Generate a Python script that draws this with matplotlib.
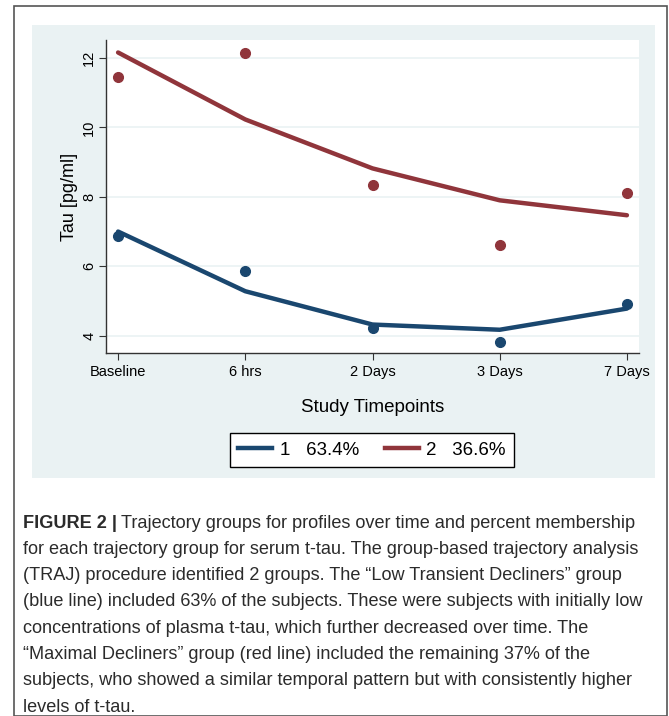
import matplotlib.pyplot as plt
from matplotlib.patches import Rectangle
from matplotlib.lines import Line2D

plt.rcParams["font.family"] = ["Liberation Sans", "DejaVu Sans"]

# data
timepoints = ["Baseline", "6 hrs", "2 Days", "3 Days", "7 Days"]
yticks = [4, 6, 8, 10, 12]

g1_fit = [7.0, 5.28, 4.32, 4.17, 4.78]
g1_obs = [6.86, 5.86, 4.22, 3.83, 4.9]
g2_fit = [12.16, 10.23, 8.82, 7.9, 7.47]
g2_obs = [11.45, 12.15, 8.35, 6.6, 8.1]

group_labels = ["1   63.4%", "2   36.6%"]

navy = "#1a476f"
maroon = "#90353b"
bg = "#eaf2f3"

W, H = 669, 716
fig = plt.figure(figsize=(W / 100, H / 100), dpi=100)
fig.patch.set_facecolor("white")

def fx(px):
    return px / W

def fy(py):
    return 1 - py / H

# outer frame + stata style background
fig.add_artist(Rectangle((fx(14), fy(716)), fx(667) - fx(14), fy(6) - fy(716),
                         transform=fig.transFigure, fill=False, ec="#555555", lw=1.2))
fig.add_artist(Rectangle((fx(32), fy(478)), fx(655) - fx(32), fy(25) - fy(478),
                         transform=fig.transFigure, fc=bg, ec="none", zorder=0))

ax = fig.add_axes([fx(106), fy(353), fx(639) - fx(106), fy(40) - fy(353)])
ax.set_facecolor("white")
x = list(range(len(timepoints)))

ax.plot(x, g1_fit, color=navy, lw=3.2, solid_capstyle="round", zorder=3)
ax.plot(x, g2_fit, color=maroon, lw=3.2, solid_capstyle="round", zorder=3)
ax.plot(x, g1_obs, "o", color=navy, ms=7, zorder=4)
ax.plot(x, g2_obs, "o", color=maroon, ms=7, zorder=4)

ax.set_xlim(-0.095, 4.095)
ax.set_ylim(3.5, 12.52)
ax.set_xticks(x)
ax.set_xticklabels(timepoints, fontsize=10.5)
ax.set_yticks(yticks)
ax.set_yticklabels([str(v) for v in yticks], fontsize=10.5, rotation=90, va="center")
ax.tick_params(length=5, width=0.8, color="#333333", pad=4)
ax.tick_params(axis="y", pad=2)
ax.yaxis.grid(True, color=bg, lw=1.2)
ax.set_axisbelow(True)
for s in ["top", "right"]:
    ax.spines[s].set_visible(False)
for s in ["left", "bottom"]:
    ax.spines[s].set_color("#333333")
    ax.spines[s].set_linewidth(1.0)

ax.set_xlabel("Study Timepoints", fontsize=13.5, labelpad=14)
ax.set_ylabel("Tau [pg/ml]", fontsize=13, labelpad=3)

handles = [Line2D([], [], color=navy, lw=3.2), Line2D([], [], color=maroon, lw=3.2)]
leg = fig.legend(handles, group_labels, loc="center", ncol=2,
                 bbox_to_anchor=(fx(372), fy(450)), fontsize=13.5, frameon=True,
                 fancybox=False, edgecolor="black", facecolor="white", framealpha=1,
                 handlelength=1.8, handletextpad=0.4, columnspacing=1.4, borderpad=0.45)
leg.get_frame().set_linewidth(1.0)

# caption (narrow font in the original, so the size is fitted to the width)
lines = [
    "Trajectory groups for profiles over time and percent membership",
    "for each trajectory group for serum t-tau. The group-based trajectory analysis",
    "(TRAJ) procedure identified 2 groups. The \u201cLow Transient Decliners\u201d group",
    "(blue line) included 63% of the subjects. These were subjects with initially low",
    "concentrations of plasma t-tau, which further decreased over time. The",
    "\u201cMaximal Decliners\u201d group (red line) included the remaining 37% of the",
    "subjects, who showed a similar temporal pattern but with consistently higher",
    "levels of t-tau.",
]
r = fig.canvas.get_renderer()
probe = fig.text(0, 0, lines[1], fontsize=10)
w10 = probe.get_window_extent(renderer=r).width
probe.remove()
cap_size = 10 * 622 / w10

y0 = 523
step = 26.3
cap_col = "#2b2b2b"
t = fig.text(fx(23), fy(y0), "FIGURE 2 |", fontsize=cap_size, fontweight="bold",
             va="center", color=cap_col)
bb = t.get_window_extent(renderer=r)
fig.text(bb.x1 / W + fx(4), fy(y0), lines[0], fontsize=cap_size,
         va="center", color=cap_col)
for i, ln in enumerate(lines[1:], start=1):
    fig.text(fx(23), fy(y0 + i * step), ln, fontsize=cap_size,
             va="center", color=cap_col)

fig.savefig("out.png", dpi=100)
